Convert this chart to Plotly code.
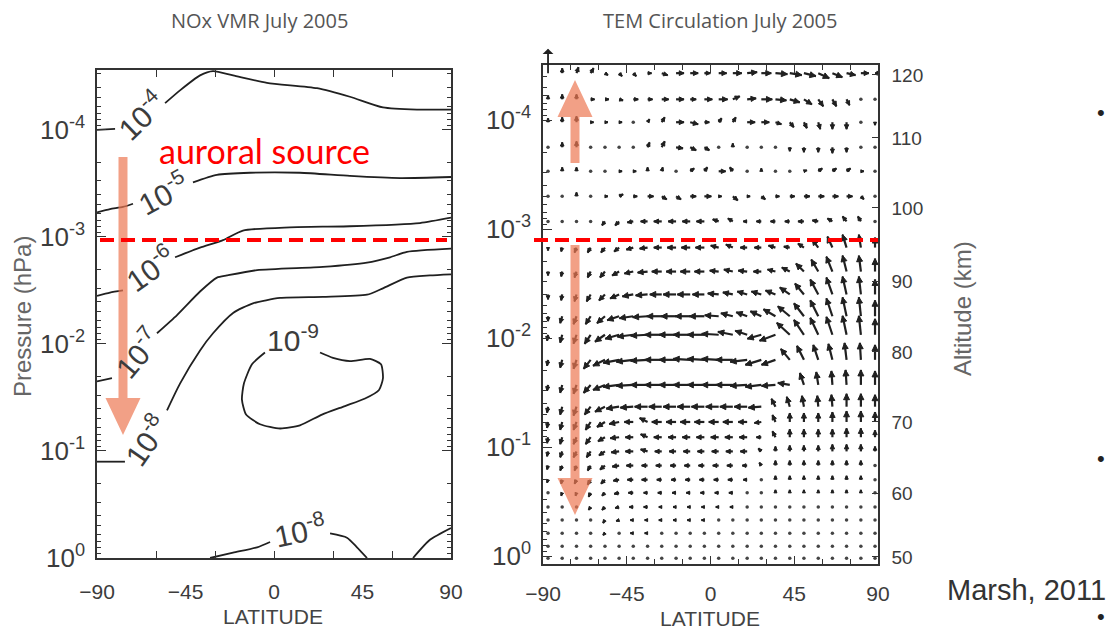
import math
import plotly.graph_objects as go

FIG_W, FIG_H = 1114, 631

# Panel boxes in page pixels
NOX_BOX = dict(left=97, right=451, top=70, bottom=558)
TEM_BOX = dict(left=543, right=878, top=65, bottom=564)
NOX_LOGP = (0.0, -4.56)      # log10(hPa) at bottom, top
TEM_LOGP = (0.073, -4.505)

# ---------------- axis ticks ----------------
LAT_TICKS = [-90, -45, 0, 45, 90]
LAT_TICKTEXT = ["\u221290", "\u221245", "0", "45", "90"]
NOX_LAT_MARKS = [-90, -60, -30, 0, 30, 60, 90]
PRESSURE_TICKS = [1e-4, 1e-3, 1e-2, 1e-1, 1e0]
PRESSURE_TICKTEXT = ["10<sup>-4</sup>", "10<sup>-3</sup>", "10<sup>-2</sup>",
                     "10<sup>-1</sup>", "10<sup>0</sup>"]
PRESSURE_MINOR = [m * 10.0 ** e for e in range(-5, 1) for m in range(2, 10)]
ALTITUDE_KM = [50, 60, 70, 80, 90, 100, 110, 120]
ALTITUDE_P = [1.02, 0.264, 0.0589, 0.0134, 3.0e-3, 6.4e-4, 1.46e-4, 3.86e-5]

# ---------------- NOx VMR contour lines ----------------
# segments of (latitude, log10 pressure [hPa]); gaps leave room for labels
NOX_1E4 = [
    [(-90, -4.00), (-80.8, -4.01)],
    [(-55.4, -4.25), (-47.8, -4.37), (-37.6, -4.51), (-31.0, -4.55), (-20.8, -4.51),
     (-3.6, -4.44), (21.9, -4.39), (38.6, -4.31), (55.4, -4.21), (72.7, -4.19), (90, -4.19)],
]
NOX_1E5 = [
    [(-90, -3.23), (-83.4, -3.26), (-76.8, -3.28), (-71.7, -3.31)],
    [(-41.2, -3.51), (-29.0, -3.58), (-12.2, -3.60), (13.2, -3.60), (38.6, -3.57),
     (64.1, -3.55), (90, -3.56)],
]
NOX_1E6 = [
    [(-90, -2.45), (-83.4, -2.48), (-76.8, -2.50)],
    [(-50.3, -2.81), (-37.6, -2.90), (-25.9, -2.97), (-15.8, -3.06), (8.1, -3.09),
     (38.6, -3.10), (74.2, -3.13), (90, -3.18)],
]
NOX_1E7 = [
    [(-90, -1.65), (-82.4, -1.68)],
    [(-59.5, -2.10), (-49.3, -2.27), (-37.6, -2.49), (-29.0, -2.62), (-23.9, -2.64),
     (-8.6, -2.69), (24.9, -2.72), (47.3, -2.76), (59.0, -2.81), (67.6, -2.86), (90, -2.89)],
]
NOX_1E8 = [
    [(-90, -0.90), (-75.8, -0.90)],
    [(-54.4, -1.38), (-47.8, -1.63), (-37.6, -1.94), (-31.0, -2.10), (-20.8, -2.29),
     (-10.7, -2.38), (3.1, -2.43), (24.9, -2.44), (47.3, -2.46), (55.4, -2.52),
     (67.6, -2.62), (79.3, -2.64), (90, -2.65)],
    [(-32.5, 0.00), (-20.8, -0.05), (-8.6, -0.10), (-2.0, -0.15)],
    [(28.5, -0.23), (37.1, -0.19), (42.2, -0.10), (47.3, 0.00)],
    [(70.7, 0.00), (79.3, -0.17), (90, -0.28)],
]
NOX_1E9 = [
    [(23.4, -1.92), (30.0, -1.87), (38.6, -1.84), (48.8, -1.86), (54.4, -1.81),
     (55.4, -1.68), (53.4, -1.57), (46.3, -1.49), (36.1, -1.42), (24.4, -1.34),
     (13.2, -1.24), (3.1, -1.21), (-7.1, -1.25), (-14.2, -1.34), (-16.3, -1.48),
     (-15.3, -1.63), (-11.2, -1.81), (-4.6, -1.92)],
]
NOX_CONTOURS = [NOX_1E4, NOX_1E5, NOX_1E6, NOX_1E7, NOX_1E8, NOX_1E9]

# contour labels: (exponent, latitude, log10 pressure, text angle)
NOX_LABELS = [
    (-4, -67.6, -4.14, -44),
    (-5, -56.4, -3.41, -28),
    (-6, -63.1, -2.71, -35),
    (-7, -69.7, -1.92, -50),
    (-8, -65.1, -1.10, -55),
    (-9, 9.7, -2.06, 0),
    (-8, 13.2, -0.26, -12),
]

# ---------------- TEM residual circulation ----------------
TEM_LAT = [-87.3, -79.7, -72.0, -64.4, -56.7, -49.1, -41.5, -33.8, -26.2, -18.5, -10.9, -3.3,
           4.4, 12.0, 19.7, 27.3, 34.9, 42.6, 50.2, 57.9, 65.5, 73.1, 80.8, 88.4]
TEM_LOG10P = [-4.43, -4.19, -3.98, -3.75, -3.53, -3.30, -3.07, -2.83, -2.61, -2.40,
              -2.20, -2.03, -1.80, -1.57, -1.37, -1.23, -1.09, -0.96, -0.83, -0.70,
              -0.58, -0.45, -0.33, -0.21, -0.09, 0.02]
# meridional (v*) and vertical (w*, positive up) components, plot units
V_STAR = [
    [0, 0, 2, 3, 3, 3, 3, 4, 6, 8, 8, 6, 8, 9, 10, 10, 12, 12, 12, 11, 10, 9, 8, 6],
    [0, 0, 0, 4, 4, 4, 5, 5, 7, 8, 6, 8, 9, 7, 9, 11, 11, 10, 8, 5, 4, 3, 1, 0],
    [0, 0, 0, 3, 3, 3, 2, 2, 3, 8, 8, 5, 3, 3, 8, 8, 6, 4, 3, 2, 0, 0, 0, 0],
    [1, 0, 0, 1, 1, 1, 1, 2, 3, 7, 6, 5, 1, 0, 1, 1, 0, 0, 0, 0, 0, 0, 0, 0],
    [1, 0, 0, 1, 2, 3, 3, 0, 1, 1, 4, 3, 7, -3, 1, 0, 1, 2, 3, 4, 4, 4, 3, 1],
    [0, 0, 0, 2, 3, 4, 4, 6, 5, 5, 6, 7, 3, 5, 3, 4, 4, 5, 6, 6, 6, 6, 3, 0],
    [0, -1, -2, -2, -3, -4, -6, -7, -8, -8, -8, -8, -6, -5, -4, -5, -5, -5, -6, -6, -5, -4, -3, 0],
    [0, -1, -2, -3, -4, -5, -7, -8, -8, -9, -9, -9, -8, -7, -7, -7, -7, -6, -6, -6, -5, -4, -2, 0],
    [0, -1, -2, -3, -5, -7, -9, -10, -10, -10, -10, -10, -9, -9, -9, -8, -8, -8, -8, -7, -6, -4, -2, 0],
    [0, -1, -2, -4, -6, -9, -11, -12, -12, -13, -13, -12, -11, -10, -10, -10, -10, -10, -9, -8, -6, -4, -2, 0],
    [0, -2, -3, -5, -8, -12, -14, -15, -15, -15, -15, -15, -14, -12, -11, -11, -12, -12, -10, -8, -6, -4, -2, 0],
    [-1, -2, -3, -6, -10, -14, -16, -17, -17, -17, -17, -17, -17, -15, -12, -14, -16, -13, -10, -8, -6, -4, -2, 0],
    [-1, -2, -3, -7, -12, -16, -17, -17, -17, -17, -17, -17, -17, -17, -17, -16, -14, -9, -7, -5, -4, -2, -1, 0],
    [-1, -2, -3, -7, -12, -16, -17, -17, -17, -17, -17, -17, -17, -17, -17, -16, -14, -12, -4, -2, -1, -1, 0, 0],
    [-1, -2, -3, -6, -10, -13, -13, -13, -13, -13, -13, -13, -13, -13, -13, -13, -4, -3, -2, -1, -1, 0, 0, 0],
    [-1, -2, -3, -5, -8, -10, -9, -8, -10, -10, -10, -10, -10, -10, -9, -7, -3, 0, 0, 0, 0, 0, 0, 0],
    [-1, -2, -3, -5, -7, -9, -8, -7, -8, -8, -8, -8, -8, -8, -8, -5, -3, 0, 0, 0, 0, 0, 0, 0],
    [-1, -2, -3, -4, -6, -8, -8, -7, -7, -7, -7, -7, -7, -7, -7, -3, 0, 0, 0, 0, 0, 0, 0, 0],
    [-1, -2, -2, -3, -5, -7, -7, -6, -6, -6, -6, -6, -6, -6, -5, -2, 0, 0, 0, 0, 0, 0, 0, 0],
    [-1, -1, -2, -3, -4, -6, -6, -6, -5, -5, -5, -5, -5, -5, -4, -1, 0, 0, 0, 0, 0, 0, 0, 0],
    [0, -1, -1, -2, -3, -5, -5, -4, -4, -4, -4, -4, -4, -4, -2, 0, 0, 0, 0, 0, 0, 0, 0, 0],
    [0, 0, -1, -2, -3, -4, -4, -4, -3, -3, -3, -3, -3, -3, -1, 0, 0, 0, 0, 0, 0, 0, 0, 0],
    [0, 0, 0, -1, -2, -3, -3, -3, -3, -3, -3, -3, -2, -2, -1, 0, 0, 0, 0, 0, 0, 0, 0, 0],
    [0, 0, 0, -1, -2, -2, -3, -3, -2, -2, -2, -2, -2, -1, -1, 0, 0, 0, 0, 0, 0, 0, 0, 0],
    [0, 0, 0, 0, -1, -2, -2, -2, -2, -2, -2, -1, -1, -1, 0, 0, 0, 0, 0, 0, 0, 0, 0, 0],
    [0, 0, 0, 0, -1, -1, -2, -2, -2, -1, -1, -1, -1, 0, 0, 0, 0, 0, 0, 0, 0, 0, 0, 0],
]
W_STAR = [
    [26, 5, 6, 5, -2, -3, -3, 0, -2, 0, 0, 0, 0, 0, 1, 0, -1, -2, -3, -5, -4, -2, 0, 0],
    [4, 5, 5, 0, 0, -1, 0, 0, 0, 0, 0, 0, 0, 3, 1, 0, -1, -3, -5, -7, -7, -6, -1, 1],
    [4, 5, 6, 0, 0, 0, 0, 3, 5, 0, -2, 0, 4, 5, 0, 0, -2, -5, -6, -7, -7, -7, -2, -3],
    [0, 5, 6, 0, 0, 0, 0, 5, 6, -1, -3, -3, 0, 4, 0, 0, 1, -4, -5, -5, -6, -5, -1, 0],
    [0, 4, 4, 0, 0, 0, 0, 4, 4, 0, 3, 4, 0, 4, 0, 3, 0, 0, 1, 3, 3, 3, 0, 0],
    [1, 2, 4, 0, 0, 2, 0, 0, -3, -3, 0, 0, 0, -4, 0, -3, 0, 0, 0, 0, 0, 0, -3, 0],
    [0, 0, -1, -1, -4, -4, -1, 0, 0, 0, 0, 0, 2, 3, 0, 0, 0, 0, 0, 1, 3, 5, 5, 1],
    [-3, -4, -5, -5, -5, -4, -2, -1, 0, 0, 0, 0, 2, 3, 0, 0, 2, 1, 4, 8, 11, 13, 13, 10],
    [-4, -5, -6, -6, -6, -4, -2, -1, 0, 0, 0, 0, 1, 2, 1, 0, 2, 4, 8, 12, 15, 16, 16, 13],
    [-5, -6, -7, -7, -6, -4, -2, -1, 0, 0, 0, 0, 1, 2, 3, 3, 4, 7, 11, 15, 17, 18, 18, 15],
    [-5, -7, -8, -8, -7, -4, -2, -1, 0, 0, 0, 0, 1, 3, 4, 5, 7, 10, 13, 16, 18, 19, 19, 16],
    [-6, -8, -9, -9, -7, -4, -2, -1, 0, 0, 0, 0, 1, 3, 4, -4, -6, 12, 15, 17, 18, 19, 19, 16],
    [-6, -8, -9, -9, -6, -3, -2, -1, 0, 0, 1, 1, 1, 0, -2, -5, -5, 11, 14, 15, 16, 17, 17, 15],
    [-6, -8, -9, -8, -5, -2, -1, 0, 0, 0, 0, 0, 0, 0, -1, -2, -1, 2, 12, 13, 14, 15, 15, 14],
    [-6, -8, -9, -8, -5, -2, -1, 0, 0, 0, 0, 0, 0, 0, 0, -1, 8, 10, 11, 11, 12, 13, 13, 12],
    [-6, -8, -8, -8, -5, -2, 0, 4, 0, 0, 0, 0, 0, 0, 0, -1, 7, 9, 9, 9, 10, 11, 11, 10],
    [-6, -7, -7, -7, -4, -1, 0, 3, 0, 0, 0, 0, 0, 0, 0, 0, 6, 8, 8, 8, 8, 9, 9, 7],
    [-5, -6, -6, -6, -4, -1, 0, 2, 0, 0, 0, 0, 0, 0, 0, 3, 5, 6, 6, 6, 7, 7, 7, 5],
    [-4, -5, -5, -5, -4, -1, 0, 0, 0, 0, 0, 0, 0, 0, 0, 3, 5, 5, 5, 5, 5, 5, 5, 2],
    [-3, -4, -4, -5, -4, -1, 0, 0, 0, 0, 0, 0, 0, 0, 0, 1, 4, 4, 4, 4, 4, 4, 4, 1],
    [-2, -3, -3, -4, -3, -1, 0, 0, 0, 0, 0, 0, 0, 0, 0, 1, 3, 3, 3, 3, 3, 3, 3, 1],
    [-1, -2, -2, -3, -3, -1, 0, 0, 0, 0, 0, 0, 0, 0, 0, 1, 2, 2, 2, 2, 2, 2, 2, 1],
    [-1, -1, -1, -2, -3, -1, 0, 0, 0, 0, 0, 0, 0, 0, 0, 1, 1, 1, 1, 1, 1, 2, 2, 1],
    [0, 0, -1, -1, -2, -1, 0, 0, 0, 0, 0, 0, 0, 0, 0, 0, 1, 1, 1, 1, 1, 1, 1, 1],
    [0, 0, 0, -1, -2, -1, 0, 0, 0, 0, 0, 0, 0, 0, 0, 0, 0, 0, 0, 0, 0, 1, 1, 1],
    [0, 0, 0, -1, -2, -1, 0, 0, 0, 0, 0, 0, 0, 0, 0, 0, 0, 0, 0, 0, 0, 0, 0, 0],
]

# ---------------- slide overlays (page pixels) ----------------
# (center x, start y, tip y) of the broad transport arrows
TRANSPORT_ARROWS = [(123, 157, 435), (575, 163, 80), (575, 245, 515)]
SOURCE_LINES = [(100, 447, 240), (534, 878, 240)]


def xf(px):
    return px / FIG_W


def yf(px):
    return 1.0 - px / FIG_H


INK = "#202020"
TXT = "#3c3c3c"
NARROW = "Liberation Sans Narrow, Arial Narrow, Liberation Sans"
SANS = "Liberation Sans, Arial, sans-serif"

fig = go.Figure()

# ---- NOx contour lines ----
for level in NOX_CONTOURS:
    xs, ys = [], []
    for seg in level:
        xs += [p[0] for p in seg] + [None]
        ys += [10 ** p[1] for p in seg] + [None]
    fig.add_trace(go.Scatter(x=xs, y=ys, mode="lines", xaxis="x", yaxis="y",
                             line=dict(color=INK, width=1.8, shape="spline", smoothing=0.6),
                             hoverinfo="skip", connectgaps=False))

# ---- TEM quiver ----
ppd = (TEM_BOX["right"] - TEM_BOX["left"]) / 180.0
ppdec = (TEM_BOX["bottom"] - TEM_BOX["top"]) / (TEM_LOGP[0] - TEM_LOGP[1])

shaft_x, shaft_y, head_x, head_y, dot_x, dot_y = [], [], [], [], [], []
extra_ann = []
for i, lp in enumerate(TEM_LOG10P):
    for j, lat in enumerate(TEM_LAT):
        u, w = V_STAR[i][j], W_STAR[i][j]
        L = math.hypot(u, w)
        if L < 2.5:
            dot_x.append(lat)
            dot_y.append(10 ** lp)
            continue

        def to_data(ox, oy):
            return lat + ox / ppd, 10 ** (lp - oy / ppdec)

        tip_lp = lp - w / ppdec
        if tip_lp < TEM_LOGP[1]:
            extra_ann.append(dict(x=lat, y=lp, xref="x2", yref="y2", ax=u, ay=-w,
                                  axref="pixel", ayref="pixel", text="", showarrow=True,
                                  arrowside="start", arrowhead=2, arrowsize=1.3,
                                  arrowwidth=1.8, arrowcolor=INK, standoff=0, startstandoff=0))
            continue
        dx, dy = u / L, w / L
        h = min(6.0, 2.0 + 0.35 * L)
        hw = 0.5 * h
        bx, by = u - dx * h, w - dy * h
        tx, ty = to_data(u, w)
        shaft_x += [lat, tx, None]
        shaft_y += [10 ** lp, ty, None]
        lx, ly = to_data(bx - dy * hw, by + dx * hw)
        rx, ry = to_data(bx + dy * hw, by - dx * hw)
        head_x += [tx, lx, rx, tx, None]
        head_y += [ty, ly, ry, ty, None]

fig.add_trace(go.Scatter(x=shaft_x, y=shaft_y, mode="lines", xaxis="x2", yaxis="y2",
                         line=dict(color=INK, width=2.2), hoverinfo="skip"))
fig.add_trace(go.Scatter(x=head_x, y=head_y, mode="lines", fill="toself", fillcolor=INK,
                         xaxis="x2", yaxis="y2", line=dict(color=INK, width=1),
                         hoverinfo="skip"))
fig.add_trace(go.Scatter(x=dot_x, y=dot_y, mode="markers", xaxis="x2", yaxis="y2",
                         marker=dict(color="#444", size=3.5), hoverinfo="skip"))
# empty traces so the tick-only overlay axes are drawn
fig.add_trace(go.Scatter(x=[None], y=[None], xaxis="x3", yaxis="y", hoverinfo="skip"))
fig.add_trace(go.Scatter(x=[None], y=[None], xaxis="x2", yaxis="y3", hoverinfo="skip"))

# ---- annotations ----
ann = []
for expo, lat, lp, ang in NOX_LABELS:
    ann.append(dict(x=lat, y=lp, xref="x", yref="y", text="10<sup>%d</sup>" % expo,
                    showarrow=False, textangle=ang,
                    font=dict(family=NARROW, size=30, color=TXT)))
ann += extra_ann


def page_text(x, y, text, size, color=TXT, family=SANS, angle=0):
    return dict(x=xf(x), y=yf(y), xref="paper", yref="paper", text=text, showarrow=False,
                xanchor="center", yanchor="middle", textangle=angle,
                font=dict(family=family, size=size, color=color))


ann += [
    page_text(259, 21, "NOx VMR July 2005", 20, "#555", "Open Sans, Liberation Sans"),
    page_text(720, 21, "TEM Circulation July 2005", 20, "#555", "Open Sans, Liberation Sans"),
    page_text(22, 317, "Pressure (hPa)", 24, "#666", angle=-90),
    page_text(962, 309, "Altitude (km)", 24, "#666", angle=-90),
    page_text(273, 616, "LATITUDE", 21, "#444", NARROW),
    page_text(710, 618, "LATITUDE", 21, "#444", NARROW),
    page_text(264, 150, "auroral source", 34, "#ff0000", "Lato, Open Sans, sans-serif"),
    page_text(1026, 590, "Marsh, 2011", 29, "#333"),
    page_text(1101, 112, "\u2022", 22, "#222"),
    page_text(1101, 458, "\u2022", 22, "#222"),
    page_text(1101, 616, "\u2022", 22, "#222"),
]

# ---- shapes: source boundary and transport arrows ----
shapes = []
for cx, y0, ytip in TRANSPORT_ARROWS:
    sgn = 1 if ytip > y0 else -1
    head_len, shaft_hw, head_hw = 37, 4.5, 17.5
    yb = ytip - sgn * head_len
    pts = [(cx - shaft_hw, y0), (cx + shaft_hw, y0), (cx + shaft_hw, yb), (cx + head_hw, yb),
           (cx, ytip), (cx - head_hw, yb), (cx - shaft_hw, yb)]
    path = "M " + " L ".join("%.5f,%.5f" % (xf(a), yf(b)) for a, b in pts) + " Z"
    shapes.append(dict(type="path", path=path, xref="paper", yref="paper",
                       fillcolor="rgba(236,120,82,0.70)", line=dict(width=0), layer="above"))
for x0, x1, y in SOURCE_LINES:
    shapes.append(dict(type="line", xref="paper", yref="paper", x0=xf(x0), x1=xf(x1),
                       y0=yf(y), y1=yf(y), line=dict(color="#ff0000", width=4, dash="14px,7px"),
                       layer="above"))

axis_common = dict(showline=True, linecolor="#333", linewidth=1.5, showgrid=False,
                   zeroline=False, tickcolor="#333", tickwidth=1.3, automargin=False)

fig.update_layout(
    template="none",
    width=FIG_W, height=FIG_H,
    margin=dict(l=0, r=0, t=0, b=0, pad=0, autoexpand=False),
    paper_bgcolor="white", plot_bgcolor="white", showlegend=False,
    annotations=ann, shapes=shapes,
    xaxis=dict(domain=[xf(NOX_BOX["left"]), xf(NOX_BOX["right"])], anchor="y",
               range=[-90, 90], tickvals=LAT_TICKS, ticktext=LAT_TICKTEXT, ticks="",
               mirror=True, ticklabelstandoff=14,
               tickfont=dict(family=SANS, size=21, color=TXT), **axis_common),
    xaxis3=dict(overlaying="x", anchor="y", range=[-90, 90], tickvals=NOX_LAT_MARKS,
                ticks="inside", ticklen=7, showticklabels=False, mirror="ticks",
                **axis_common),
    yaxis=dict(domain=[yf(NOX_BOX["bottom"]), yf(NOX_BOX["top"])], anchor="x",
               type="log", range=list(NOX_LOGP), tickvals=PRESSURE_TICKS,
               ticktext=PRESSURE_TICKTEXT, ticks="inside", ticklen=9, mirror="ticks",
               ticklabelstandoff=5,
               minor=dict(tickvals=PRESSURE_MINOR, ticks="inside", ticklen=4,
                          tickcolor="#333", tickwidth=1),
               tickfont=dict(family=NARROW, size=26, color=TXT), **axis_common),
    xaxis2=dict(domain=[xf(TEM_BOX["left"]), xf(TEM_BOX["right"])], anchor="y2",
                range=[-90, 90], tickvals=LAT_TICKS, ticktext=LAT_TICKTEXT,
                ticks="inside", ticklen=8, mirror="ticks", ticklabelstandoff=10,
                minor=dict(dtick=15, tick0=0, ticks="inside", ticklen=5,
                           tickcolor="#333", tickwidth=1),
                tickfont=dict(family=SANS, size=21, color=TXT), **axis_common),
    yaxis2=dict(domain=[yf(TEM_BOX["bottom"]), yf(TEM_BOX["top"])], anchor="x2",
                type="log", range=list(TEM_LOGP), tickvals=PRESSURE_TICKS,
                ticktext=PRESSURE_TICKTEXT, ticks="inside", ticklen=9,
                ticklabelstandoff=5,
                minor=dict(tickvals=PRESSURE_MINOR, ticks="inside", ticklen=4,
                           tickcolor="#333", tickwidth=1),
                tickfont=dict(family=NARROW, size=26, color=TXT), **axis_common),
    yaxis3=dict(overlaying="y2", anchor="x2", side="right", type="log",
                range=list(TEM_LOGP), tickvals=ALTITUDE_P,
                ticktext=[str(a) for a in ALTITUDE_KM], ticks="inside", ticklen=6,
                ticklabelstandoff=8,
                tickfont=dict(family=SANS, size=19, color=TXT), **axis_common),
)

fig.write_html("out.html")
